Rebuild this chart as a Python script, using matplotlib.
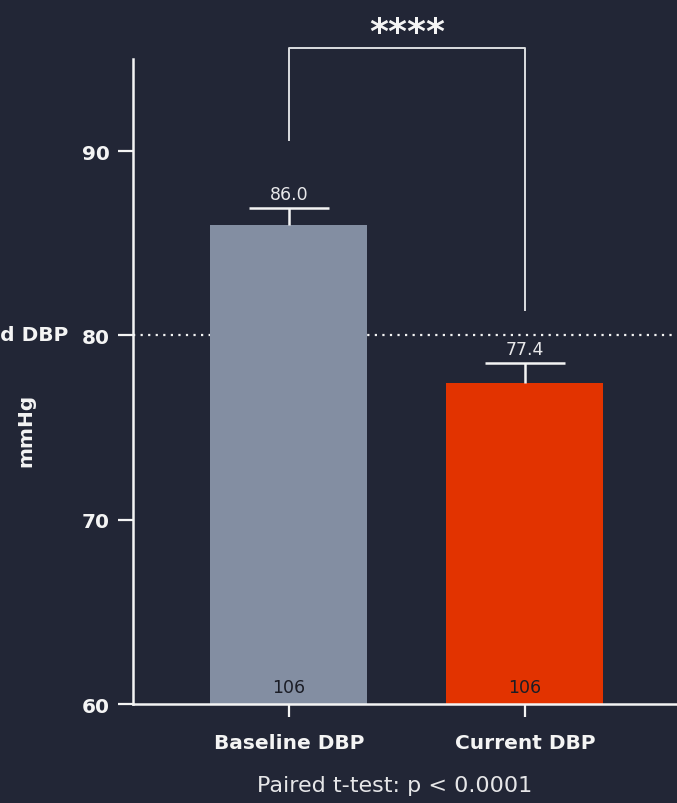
import matplotlib
matplotlib.use("Agg")
import matplotlib.pyplot as plt

categories = ["Baseline DBP", "Current DBP"]
means = [86.0, 77.4]
sems = [0.9, 1.1]
counts = [106, 106]
target_dbp = 80
bar_colors = ["#838ea2", "#e23300"]

BG = "#222636"
FG = "#f4f4f4"

plt.rcParams['font.family'] = ['DejaVu Sans']

fig = plt.figure(figsize=(6.77, 8.04), dpi=100, facecolor=BG)
ax = fig.add_axes([133/677, 1-705/804, (690-133)/677, (705-60)/804])
ax.set_facecolor(BG)

x = [0, 1]
ax.bar(x, means, width=0.665, color=bar_colors, zorder=2)
ax.errorbar(x, means, yerr=[[0, 0], sems], fmt='none', ecolor=FG,
            elinewidth=1.8, capsize=0, zorder=3)
tops = [m + s for m, s in zip(means, sems)]
for xi, t in zip(x, tops):
    ax.hlines(t, xi - 0.17, xi + 0.17, color=FG, lw=1.8, zorder=3)

ax.set_xlim(-0.661, 1.7)
ax.set_ylim(60, 95)

ax.axhline(target_dbp, color=FG, lw=1.6, ls=(0, (1, 2.4)), zorder=1)

for xi, m, t in zip(x, means, tops):
    ax.text(xi, t + 0.3, f"{m:.1f}", ha='center', va='bottom',
            color="#e8e8ea", fontsize=12.5)
for xi, c in zip(x, counts):
    ax.text(xi, 60.45, str(c), ha='center', va='bottom', color="#1b1d26",
            fontsize=12.5)

# significance bracket
yb = 95.6
ax.plot([0, 0, 1, 1], [90.6, yb, yb, 81.4], color="#dcdde0", lw=1.4,
        clip_on=False, zorder=3)
ax.text(0.5, yb + 0.85, "****", ha='center', va='center', color=FG,
        fontsize=26, fontweight='bold')

ax.set_xticks(x)
ax.set_xticklabels(categories, fontsize=14.5, fontweight='bold', color=FG)
ax.set_yticks([60, 70, 80, 90])
ax.set_yticklabels(["60", "70", "80", "90"], fontsize=14.5, fontweight='bold', color=FG)
ax.tick_params(axis='y', colors=FG, length=11, width=1.6, pad=5.5)
ax.tick_params(axis='x', colors=FG, length=9, width=1.6, pad=12)

for side in ['top', 'right']:
    ax.spines[side].set_visible(False)
for side in ['left', 'bottom']:
    ax.spines[side].set_color(FG)
    ax.spines[side].set_linewidth(1.8)

fig.text(26/677, 1-430/804, "mmHg", rotation=90, ha='center', va='center',
         color=FG, fontsize=14.5, fontweight='bold')

fig.text(68/677, 1-336/804, "Controlled DBP", ha='right', va='center',
         color=FG, fontsize=14.5, fontweight='bold')

fig.text(395/677, 1-786/804, "Paired t-test: p < 0.0001", ha='center',
         va='center', color="#e6e6e8", fontsize=16, fontweight='normal')

fig.savefig("out.png", dpi=100, facecolor=BG)
